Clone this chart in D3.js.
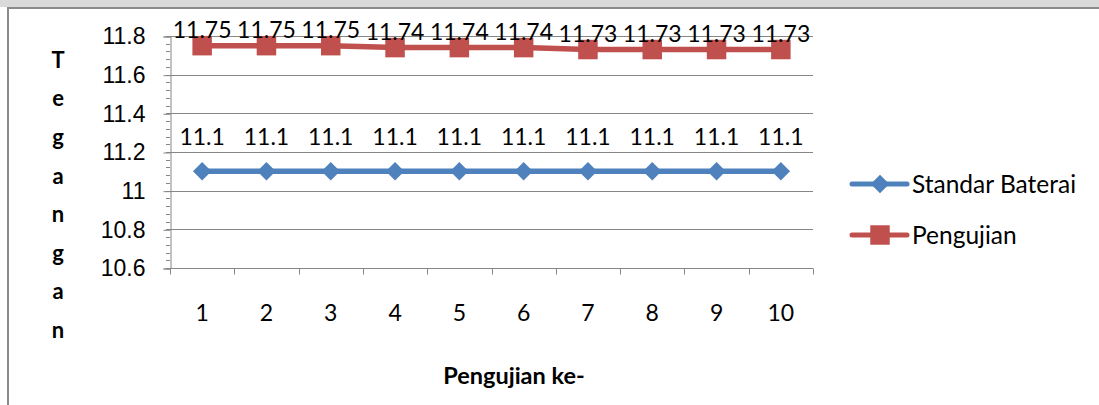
<!DOCTYPE html>
<html>
<head>
<meta charset="utf-8">
<script src="https://cdn.jsdelivr.net/npm/d3@7"></script>
<style>
  body { margin: 0; background: #fff; }
  svg { display: block; font-family: Lato, "Open Sans", sans-serif; }
</style>
</head>
<body>
<svg id="chart" width="1099" height="405"></svg>
<script>
'use strict';

var categories = ['1', '2', '3', '4', '5', '6', '7', '8', '9', '10'];
var standarBaterai = [11.1, 11.1, 11.1, 11.1, 11.1, 11.1, 11.1, 11.1, 11.1, 11.1];
var pengujian = [11.75, 11.75, 11.75, 11.74, 11.74, 11.74, 11.73, 11.73, 11.73, 11.73];
var yTicks = [10.6, 10.8, 11, 11.2, 11.4, 11.6, 11.8];
var yTitle = 'Tegangan';
var xTitle = 'Pengujian ke-';

var svg = d3.select('#chart'),
    plot = { left: 170, right: 813, top: 36, bottom: 268 },
    axisColor = '#868686',
    numSize = 23,
    x = d3.scaleBand().domain(categories).range([plot.left, plot.right]),
    y = d3.scaleLinear().domain([10.6, 11.8]).range([plot.bottom, plot.top]);

// diamond = square turned 45 degrees
var series = [
  { name: 'Standar Baterai', values: standarBaterai, color: '#4f81bd', size: 170, rotate: 45, labelDy: -34 },
  { name: 'Pengujian', values: pengujian, color: '#c0504d', size: 380, rotate: 0, labelDy: -16 }
];
var marker = d3.symbol().type(d3.symbolSquare);

// page frame (top band + box border)
svg.append('rect').attr('x', 0).attr('y', 0).attr('width', 1099).attr('height', 7).attr('fill', '#dadada');
svg.append('line').attr('x1', 8).attr('x2', 1099).attr('y1', 8).attr('y2', 8).attr('stroke', '#8a8a8a').attr('stroke-width', 2);
svg.append('line').attr('x1', 8).attr('x2', 8).attr('y1', 7).attr('y2', 405).attr('stroke', '#8a8a8a').attr('stroke-width', 2);

// gridlines
svg.append('g').selectAll('line').data(yTicks.slice(1)).enter().append('line')
  .attr('x1', plot.left).attr('x2', plot.right)
  .attr('y1', function (d) { return Math.round(y(d)) + 0.5; })
  .attr('y2', function (d) { return Math.round(y(d)) + 0.5; })
  .attr('stroke', axisColor).attr('stroke-width', 1);

// y axis with minor ticks
var minor = d3.range(0, 31).map(function (i) { return 10.6 + i * 0.04; });
svg.append('g').selectAll('line').data(minor).enter().append('line')
  .attr('x1', plot.left - 4).attr('x2', plot.left)
  .attr('y1', function (d) { return Math.round(y(d)) + 0.5; })
  .attr('y2', function (d) { return Math.round(y(d)) + 0.5; })
  .attr('stroke', axisColor);

var yAxis = svg.append('g').attr('transform', 'translate(' + (plot.left + 0.5) + ',0.5)')
  .call(d3.axisLeft(y).tickValues(yTicks).tickSize(7).tickPadding(18).tickFormat(d3.format('~g')));
yAxis.select('.domain').attr('stroke', axisColor);
yAxis.selectAll('.tick line').attr('stroke', axisColor);
yAxis.selectAll('.tick text').attr('font-size', numSize).attr('fill', '#000').attr('font-family', null);

// x axis, ticks on category boundaries
var xAxisG = svg.append('g').attr('transform', 'translate(0,' + (Math.round(plot.bottom) + 0.5) + ')');
xAxisG.append('line').attr('x1', plot.left).attr('x2', plot.right).attr('stroke', axisColor);
xAxisG.selectAll('line.tk').data(categories.concat(['end'])).enter().append('line').attr('class', 'tk')
  .attr('x1', function (d, i) { return Math.round(i < categories.length ? x(d) : plot.right) + 0.5; })
  .attr('x2', function (d, i) { return Math.round(i < categories.length ? x(d) : plot.right) + 0.5; })
  .attr('y1', 0).attr('y2', 6).attr('stroke', axisColor);
xAxisG.selectAll('text').data(categories).enter().append('text')
  .attr('x', function (d) { return x(d) + x.bandwidth() / 2; })
  .attr('y', 44).attr('dy', '0.35em').attr('text-anchor', 'middle')
  .attr('font-size', numSize).attr('fill', '#000').text(function (d) { return d; });

// series
var line = d3.line()
  .x(function (d, i) { return x(categories[i]) + x.bandwidth() / 2; })
  .y(function (d) { return y(d); });

series.forEach(function (s) {
  var g = svg.append('g');
  g.append('path').datum(s.values).attr('d', line)
    .attr('fill', 'none').attr('stroke', s.color).attr('stroke-width', 5.5).attr('stroke-linejoin', 'round');
  g.selectAll('path.mk').data(s.values).enter().append('path').attr('class', 'mk')
    .attr('d', marker.size(s.size)())
    .attr('transform', function (d, i) {
      return 'translate(' + (x(categories[i]) + x.bandwidth() / 2) + ',' + y(d) + ') rotate(' + s.rotate + ')';
    })
    .attr('fill', s.color);
  g.selectAll('text').data(s.values).enter().append('text')
    .attr('x', function (d, i) { return x(categories[i]) + x.bandwidth() / 2; })
    .attr('y', function (d) { return y(d) + s.labelDy; })
    .attr('dy', '0.35em').attr('text-anchor', 'middle')
    .attr('font-size', numSize).attr('fill', '#000')
    .text(function (d) { return d3.format('~g')(d); });
});

// legend
var legend = svg.append('g').selectAll('g').data(series).enter().append('g')
  .attr('transform', function (d, i) { return 'translate(852,' + (184 + i * 51) + ')'; });
legend.append('line').attr('x1', 0).attr('x2', 55).attr('stroke', function (d) { return d.color; })
  .attr('stroke-width', 5).attr('stroke-linecap', 'round');
legend.append('path').attr('d', function (d) { return marker.size(d.size)(); })
  .attr('transform', function (d) { return 'translate(28,0) rotate(' + d.rotate + ')'; })
  .attr('fill', function (d) { return d.color; });
legend.append('text').attr('x', 60).attr('dy', '0.35em').attr('font-size', 24.5).attr('fill', '#000')
  .text(function (d) { return d.name; });

// axis titles
svg.append('g').selectAll('text').data(yTitle.split('')).enter().append('text')
  .attr('x', 58).attr('y', function (d, i) { return 60 + i * 38.6; })
  .attr('dy', '0.35em').attr('text-anchor', 'middle')
  .attr('font-size', 22).attr('font-weight', 'bold').attr('fill', '#000')
  .text(function (d) { return d; });

svg.append('text').attr('x', 514).attr('y', 376).attr('dy', '0.35em').attr('text-anchor', 'middle')
  .attr('font-size', 23.5).attr('font-weight', 'bold').attr('fill', '#000').text(xTitle);
</script>
</body>
</html>
